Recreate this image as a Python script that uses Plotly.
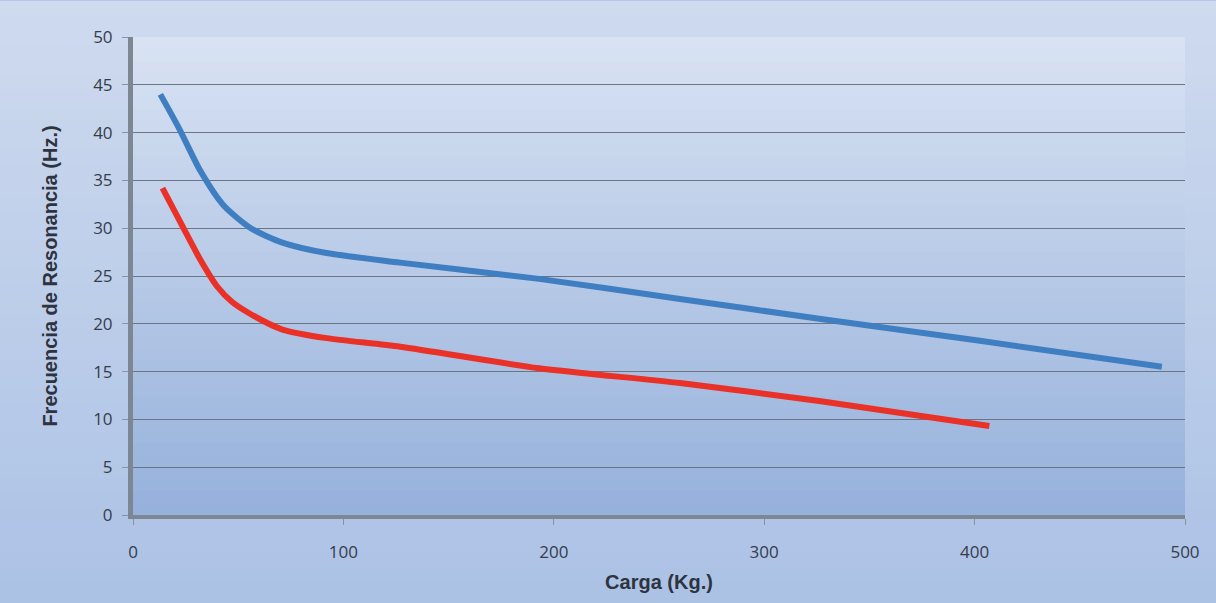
import plotly.graph_objects as go

# Data
carga_azul = [13, 22, 32, 43, 56, 71, 92, 127, 193, 260, 327, 400, 489]
freq_azul = [44.0, 40.4, 36.0, 32.4, 30.0, 28.5, 27.4, 26.4, 24.7, 22.6, 20.5, 18.3, 15.5]
carga_roja = [14, 24, 32, 40, 47, 56, 71, 92, 127, 193, 260, 327, 407]
freq_roja = [34.2, 30.0, 26.7, 23.9, 22.3, 21.0, 19.4, 18.5, 17.6, 15.35, 13.8, 11.9, 9.3]

x_ticks = [0, 100, 200, 300, 400, 500]
y_ticks = [0, 5, 10, 15, 20, 25, 30, 35, 40, 45, 50]

W, H = 1216, 603
ML, MR, MT, MB = 133, 31, 37, 78
PW, PH = W - ML - MR, H - MT - MB


def lerp(c1, c2, t):
    return "rgb(%d,%d,%d)" % tuple(round(a + (b - a) * t) for a, b in zip(c1, c2))


fig = go.Figure()
fig.add_trace(go.Scatter(x=carga_azul, y=freq_azul, mode="lines",
                         line=dict(color="#3f7fc1", width=6, shape="spline", smoothing=0.7),
                         showlegend=False))
fig.add_trace(go.Scatter(x=carga_roja, y=freq_roja, mode="lines",
                         line=dict(color="#ea3128", width=6, shape="spline", smoothing=0.7),
                         showlegend=False))

shapes = []
n = 40
# outer background gradient
top_out, bot_out = (206, 218, 238), (172, 194, 229)
y0p, y1p = -(MB + 6) / PH, 1 + MT / PH
x0p, x1p = -ML / PW, 1 + MR / PW
for i in range(n):
    a = y1p - (y1p - y0p) * i / n
    b = y1p - (y1p - y0p) * (i + 1) / n
    shapes.append(dict(type="rect", xref="paper", yref="paper", x0=x0p, x1=x1p,
                       y0=b - 0.002, y1=a, fillcolor=lerp(top_out, bot_out, i / (n - 1)),
                       line=dict(width=0), layer="below"))
# plot area gradient
top_in, bot_in = (216, 226, 242), (150, 177, 220)
for i in range(n):
    a = 1 - i / n
    b = 1 - (i + 1) / n
    shapes.append(dict(type="rect", xref="paper", yref="paper", x0=0, x1=1,
                       y0=b - 0.002, y1=a, fillcolor=lerp(top_in, bot_in, i / (n - 1)),
                       line=dict(width=0), layer="below"))

tick_font = dict(family="Open Sans, Liberation Sans, sans-serif", size=17, color="#363c4a")
title_font = dict(family="Liberation Sans, Arial, sans-serif", size=20, color="#2e3340")

fig.update_layout(
    width=W, height=H,
    margin=dict(l=ML, r=MR, t=MT, b=MB),
    paper_bgcolor="#acc2e5",
    plot_bgcolor="rgba(0,0,0,0)",
    shapes=shapes,
    xaxis=dict(range=[0, 500], tickvals=x_ticks, ticktext=[str(v) for v in x_ticks],
               showgrid=False, zeroline=False, showline=True, linewidth=4, linecolor="#7d8794",
               ticks="outside", ticklen=6, tickcolor="#8a939e", tickfont=tick_font,
               ticklabelstandoff=13,
               title=dict(text="<b>Carga (Kg.)</b>", standoff=14, font=title_font)),
    yaxis=dict(range=[0, 50], tickvals=y_ticks, ticktext=[str(v) for v in y_ticks],
               showgrid=True, gridcolor="#6b7584", gridwidth=1, zeroline=False,
               showline=True, linewidth=5, linecolor="#7d8794",
               ticks="outside", ticklen=6, tickcolor="#8a939e", tickfont=tick_font,
               ticklabelstandoff=6,
               title=dict(text="<b>Frecuencia de Resonancia (Hz.)</b>", standoff=32, font=title_font)),
)

fig.write_html(
    "out.html", config={"displayModeBar": False},
    post_script=("document.documentElement.style.margin='0';"
                 "document.documentElement.style.overflow='hidden';"
                 "document.body.style.margin='0';document.body.style.overflow='hidden';"
                 "document.body.style.background='#acc2e5';window.scrollTo(0,0);"))
